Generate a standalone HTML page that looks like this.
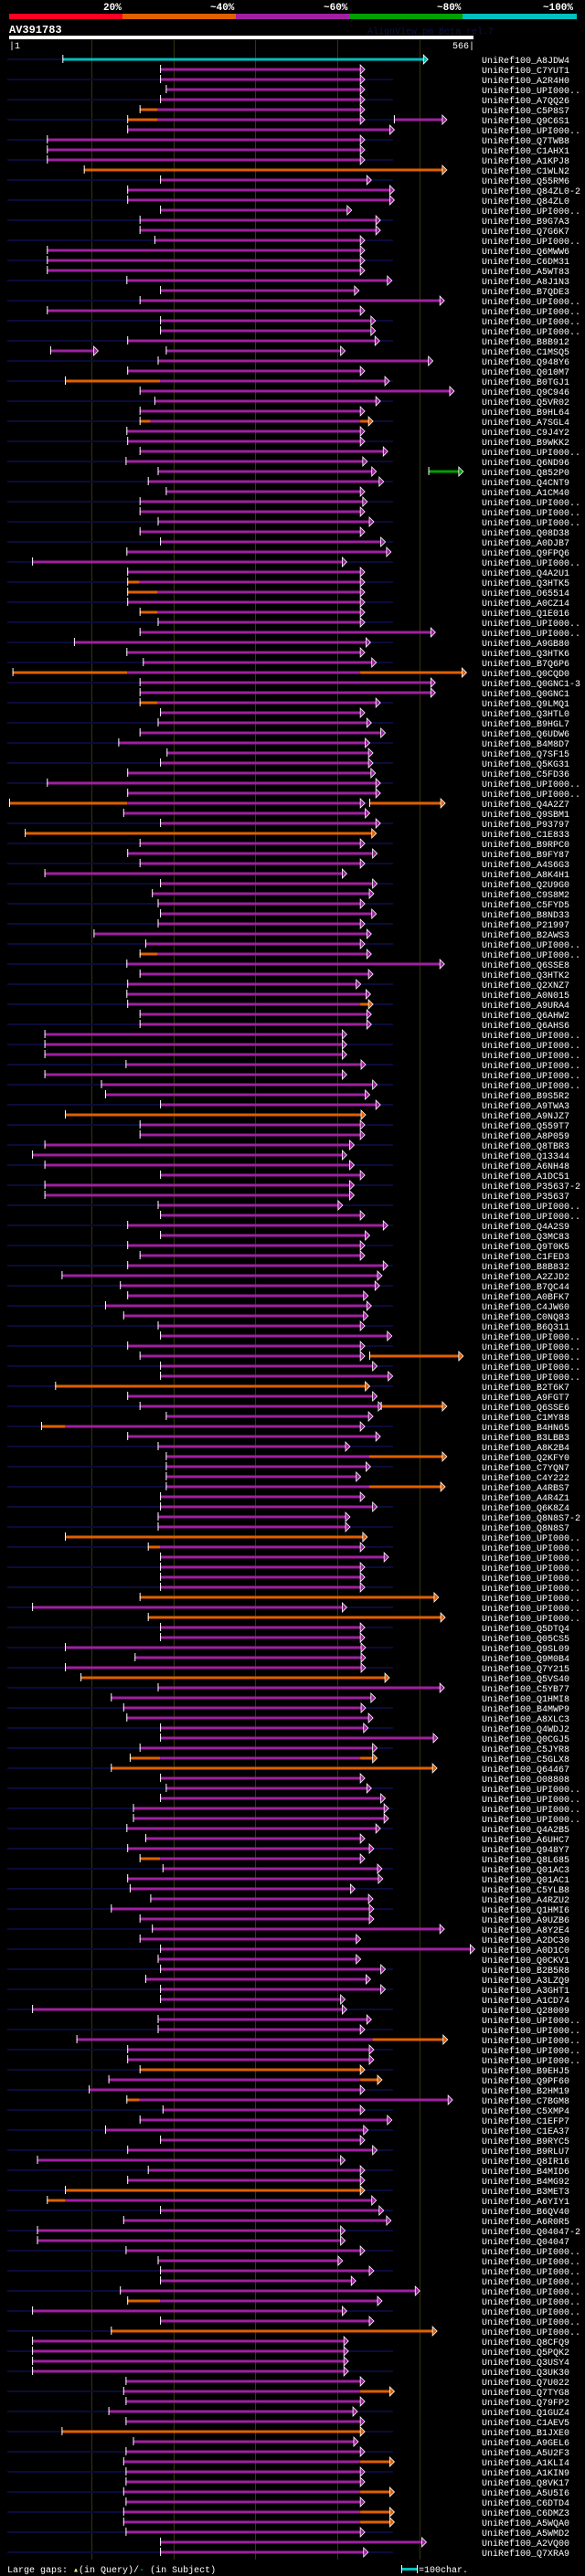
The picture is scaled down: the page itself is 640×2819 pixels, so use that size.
<!DOCTYPE html>
<html><head><meta charset="utf-8">
<style>
html,body{margin:0;padding:0;background:#000;}
body{width:640px;height:2819px;overflow:hidden;position:relative;font-family:"Liberation Mono",monospace;color:#fff;}
svg{position:absolute;left:0;top:0;}
</style></head>
<body>
<svg id="chart" width="640" height="2819" viewBox="0 0 640 2819" xmlns="http://www.w3.org/2000/svg">
  <g>
    <rect x="10" y="15" width="124" height="6" fill="#ff0022"/>
    <rect x="134" y="15" width="124" height="6" fill="#e06000"/>
    <rect x="258" y="15" width="124" height="6" fill="#a020a0"/>
    <rect x="382" y="15" width="124" height="6" fill="#00a000"/>
    <rect x="506" y="15" width="125" height="6" fill="#00c0c0"/>
    <g font-family="Liberation Mono, monospace" font-size="11" font-weight="bold" fill="#fff">
      <text x="113" y="11">20%</text>
      <text x="230" y="11">~40%</text>
      <text x="354" y="11">~60%</text>
      <text x="478" y="11">~80%</text>
      <text x="594" y="11">~100%</text>
    </g>
  </g>
  <text x="10" y="36" font-family="Liberation Mono, monospace" font-size="12" font-weight="bold" fill="#fff">AV391783</text>
  <text x="402" y="37" font-family="Liberation Mono, monospace" font-size="10" fill="#101048">AlignView.pm Beta rel.7</text>
  <rect x="10" y="39" width="508" height="4" fill="#fff"/>
  <text x="10" y="53" font-family="Liberation Mono, monospace" font-size="10" fill="#fff">|1</text>
  <text x="519" y="53" text-anchor="end" font-family="Liberation Mono, monospace" font-size="10" fill="#fff">566|</text>
  <g id="grid"></g>
  <g id="rows"></g>
  <g font-family="Liberation Mono, monospace" font-size="10" fill="#fff">
    <text x="8" y="2815">Large gaps: <tspan fill="#ffff80">▴</tspan>(in Query)/<tspan fill="#00c0c0">-</tspan> (in Subject)</text>
    <rect x="439" y="2810" width="17" height="3" fill="#00c0c0"/>
    <rect x="439" y="2807" width="1" height="9" fill="#fff"/>
    <rect x="456" y="2807" width="1" height="9" fill="#fff"/>
    <text x="458" y="2815">=100char.</text>
  </g>
</svg>
<script>
const queryLength = 566;
const gridTicks = [100, 200, 300, 400, 500];
const colors = {m: '#a020a0', o: '#e06000', c: '#00c0c0', g: '#00a000'};
const labels = ["A8JDW4","C7YUT1","A2R4H0","UPI000..","A7QQ26","C5P8S7","Q9C6S1","UPI000..","Q7TWB8","C1AHX1","A1KPJ8","C1WLN2","Q55RM6","Q84ZL0-2","Q84ZL0","UPI000..","B9G7A3","Q7G6K7","UPI000..","Q6MWW6","C6DM31","A5WT83","A8J1N3","B7QDE3","UPI000..","UPI000..","UPI000..","UPI000..",
"B8B912","C1MSQ5","Q948Y6","Q010M7","B0TGJ1","Q9C946","Q5VR02","B9HL64","A7SGL4","C9J4Y2","B9WKK2","UPI000..","Q6ND96","Q852P0","Q4CNT9","A1CM40","UPI000..","UPI000..","UPI000..","Q08D38","A0DJB7","Q9FPQ6","UPI000..","Q4A2U1","Q3HTK5","O65514","A0CZ14","Q1E016",
"UPI000..","UPI000..","A9GB80","Q3HTK6","B7Q6P6","Q0CQD0","Q0GNC1-3","Q0GNC1","Q9LMQ1","Q3HTL0","B9HGL7","Q6UDW6","B4M8D7","Q7SF15","Q5KG31","C5FD36","UPI000..","UPI000..","Q4A2Z7","Q9SBM1","P93797","C1E833","B9RPC0","B9FY87","A4S6G3","A8K4H1","Q2U9G0","C9S8M2",
"C5FYD5","B8ND33","P21997","B2AWS3","UPI000..","UPI000..","Q6SSE8","Q3HTK2","Q2XNZ7","A0N015","A9URA4","Q6AHW2","Q6AHS6","UPI000..","UPI000..","UPI000..","UPI000..","UPI000..","UPI000..","B9S5R2","A9TWA3","A9NJZ7","Q559T7","A8P059","Q8TBR3","Q13344","A6NH48","A1DC51",
"P35637-2","P35637","UPI000..","UPI000..","Q4A2S9","Q3MC83","Q9T0K5","C1FED3","B8B832","A2ZJD2","B7QC44","A0BFK7","C4JW60","C0NQ83","B6Q311","UPI000..","UPI000..","UPI000..","UPI000..","UPI000..","B2T6K7","A9FGT7","Q6SSE6","C1MY88","B4HN65","B3LBB3","A8K2B4","Q2KFY0",
"C7YQN7","C4Y222","A4RBS7","A4R4Z1","Q6K8Z4","Q8N8S7-2","Q8N8S7","UPI000..","UPI000..","UPI000..","UPI000..","UPI000..","UPI000..","UPI000..","UPI000..","UPI000..","Q5DTQ4","Q05CS5","Q9SL09","Q9M0B4","Q7Y215","Q5VS40","C5YB77","Q1HMI8","B4MWP9","A8XLC3","Q4WDJ2","Q0CGJ5",
"C5JYR8","C5GLX8","Q64467","O08808","UPI000..","UPI000..","UPI000..","UPI000..","Q4A2B5","A6UHC7","Q948Y7","Q8L685","Q01AC3","Q01AC1","C5YLB8","A4RZU2","Q1HMI6","A9UZB6","A8Y2E4","A2DC30","A0D1C0","Q0CKV1","B2B5R8","A3LZQ9","A3GHT1","A1CD74","Q28009",
"UPI000..","UPI000..","UPI000..","UPI000..","UPI000..","B9EHJ5","Q9PF60","B2HM19","C7BGM8","C5XMP4","C1EFP7","C1EA37","B9RYC5","B9RLU7","Q8IR16","B4MID6","B4MG92","B3MET3","A6YIY1","B6QV40","A6R0R5","Q04047-2","Q04047","UPI000..","UPI000..","UPI000..","UPI000..",
"UPI000..","UPI000..","UPI000..","UPI000..","UPI000..","Q8CFQ9","Q5PQK2","Q3USY4","Q3UK30","Q7U022","Q7TYG8","Q79FP2","Q1GUZ4","C1AEV5","B1JXE0","A9GEL6","A5U2F3","A1KLI4","A1KIN9","Q8VK17","A5U5I6","C6DTD4","C6DMZ3","A5WQA0","A5WMD2","A2VQ00","Q7XRA9"];
// segments per hit: [startResidue, endResidue, colourKey]
const segments = [
[[65,505,'c']],[[184,428,'m']],[[184,428,'m']],[[191,428,'m']],[[184,428,'m']],[[159,181,'o'],[181,428,'m']],[[144,181,'o'],[181,428,'m'],[469,528,'m']],[[144,464,'m']],
[[46,428,'m']],[[46,428,'m']],[[46,428,'m']],[[91,528,'o']],[[184,436,'m']],[[144,464,'m']],[[144,464,'m']],[[184,412,'m']],
[[159,447,'m']],[[159,447,'m']],[[177,428,'m']],[[46,428,'m']],[[46,428,'m']],[[46,428,'m']],[[143,461,'m']],[[184,421,'m']],
[[159,525,'m']],[[46,428,'m']],[[184,441,'m']],[[184,441,'m']],
[[144,446,'m']],[[50,103,'m'],[191,404,'m']],[[181,511,'m']],[[144,428,'m']],[[68,184,'o'],[184,458,'m']],[[159,537,'m']],[[177,447,'m']],[[159,428,'m']],
[[159,172,'o'],[172,428,'m'],[428,438,'o']],[[143,428,'m']],[[144,428,'m']],[[159,456,'m']],[[142,431,'m']],[[181,442,'m'],[511,548,'g']],[[169,451,'m']],[[191,428,'m']],
[[159,431,'m']],[[159,428,'m']],[[181,439,'m']],[[159,428,'m']],[[184,453,'m']],[[143,460,'m']],[[28,406,'m']],[[144,428,'m']],
[[144,159,'o'],[159,428,'m']],[[144,181,'o'],[181,428,'m']],[[144,428,'m']],[[159,181,'o'],[181,428,'m']],
[[181,428,'m']],[[159,514,'m']],[[79,435,'m']],[[143,428,'m']],[[163,442,'m']],[[4,144,'o'],[144,428,'m'],[428,552,'o']],[[159,514,'m']],[[159,514,'m']],
[[159,181,'o'],[181,447,'m']],[[184,428,'m']],[[181,436,'m']],[[159,453,'m']],[[133,434,'m']],[[192,438,'m']],[[184,438,'m']],[[144,441,'m']],
[[46,447,'m']],[[144,447,'m']],[[0,144,'o'],[144,428,'m'],[439,526,'o']],[[139,434,'m']],[[184,447,'m']],[[19,442,'o']],[[159,428,'m']],[[144,443,'m']],
[[159,428,'m']],[[43,406,'m']],[[184,443,'m']],[[174,439,'m']],
[[181,428,'m']],[[184,442,'m']],[[181,428,'m']],[[103,436,'m']],[[166,428,'m']],[[159,181,'o'],[181,436,'m']],[[143,525,'m']],[[159,438,'m']],
[[144,423,'m']],[[143,435,'m']],[[144,428,'m'],[428,438,'o']],[[159,436,'m']],[[159,436,'m']],[[43,406,'m']],[[43,406,'m']],[[43,406,'m']],
[[142,429,'m']],[[43,406,'m']],[[112,443,'m']],[[117,434,'m']],[[184,447,'m']],[[68,429,'o']],[[159,428,'m']],[[159,428,'m']],
[[43,415,'m']],[[28,406,'m']],[[43,415,'m']],[[184,428,'m']],
[[43,415,'m']],[[43,415,'m']],[[181,401,'m']],[[184,428,'m']],[[144,456,'m']],[[184,434,'m']],[[144,428,'m']],[[159,428,'m']],
[[144,456,'m']],[[64,449,'m']],[[135,446,'m']],[[144,432,'m']],[[117,436,'m']],[[139,432,'m']],[[181,428,'m']],[[184,461,'m']],
[[144,428,'m']],[[159,428,'m'],[439,548,'o']],[[184,443,'m']],[[184,462,'m']],[[56,434,'o']],[[144,443,'m']],[[159,450,'m'],[453,528,'o']],[[191,438,'m']],
[[39,68,'o'],[68,428,'m']],[[144,447,'m']],[[181,410,'m']],[[191,439,'m'],[439,528,'o']],
[[191,435,'m']],[[191,423,'m']],[[191,439,'m'],[439,526,'o']],[[184,428,'m']],[[184,443,'m']],[[181,410,'m']],[[181,410,'m']],[[68,431,'o']],
[[169,184,'o'],[184,428,'m']],[[184,457,'m']],[[184,428,'m']],[[184,428,'m']],[[184,428,'m']],[[159,518,'o']],[[28,406,'m']],[[169,526,'o']],
[[184,428,'m']],[[184,428,'m']],[[68,429,'m']],[[153,429,'m']],[[68,429,'m']],[[87,458,'o']],[[181,525,'m']],[[124,441,'m']],
[[139,429,'m']],[[143,438,'m']],[[184,432,'m']],[[184,517,'m']],
[[159,443,'m']],[[147,184,'o'],[184,428,'m'],[428,443,'o']],[[124,516,'o']],[[184,428,'m']],[[191,436,'m']],[[184,453,'m']],[[151,457,'m']],[[151,457,'m']],
[[143,447,'m']],[[166,428,'m']],[[144,439,'m']],[[159,184,'o'],[184,428,'m']],[[187,449,'m']],[[144,450,'m']],[[147,416,'m']],[[172,438,'m']],
[[124,439,'m']],[[159,439,'m']],[[174,525,'m']],[[159,423,'m']],[[184,562,'m']],[[181,423,'m']],[[184,453,'m']],[[166,435,'m']],
[[184,453,'m']],[[184,404,'m']],[[28,406,'m']],
[[181,436,'m']],[[181,428,'m']],[[82,443,'m'],[443,529,'o']],[[144,439,'m']],[[144,439,'m']],[[159,428,'o']],[[121,428,'m'],[428,449,'o']],[[97,428,'m']],
[[143,159,'o'],[159,535,'m']],[[187,428,'m']],[[159,461,'m']],[[117,432,'m']],[[184,428,'m']],[[144,443,'m']],[[34,404,'m']],[[169,428,'m']],
[[144,428,'m']],[[68,428,'o']],[[46,68,'o'],[68,442,'m']],[[184,451,'m']],[[139,460,'m']],[[34,404,'m']],[[34,404,'m']],[[142,428,'m']],
[[181,401,'m']],[[184,439,'m']],[[184,417,'m']],
[[135,495,'m']],[[144,184,'o'],[184,449,'m']],[[28,406,'m']],[[184,439,'m']],[[124,516,'o']],[[28,408,'m']],[[28,408,'m']],[[28,408,'m']],
[[28,408,'m']],[[142,428,'m']],[[139,428,'m'],[428,464,'o']],[[142,428,'m']],[[121,419,'m']],[[142,428,'m']],[[64,428,'o']],[[151,420,'m']],
[[142,428,'m']],[[139,428,'m'],[428,464,'o']],[[142,428,'m']],[[142,428,'m']],[[139,428,'m'],[428,464,'o']],[[142,428,'m']],[[139,428,'m'],[428,464,'o']],[[139,428,'m'],[428,464,'o']],
[[142,428,'m']],[[184,503,'m']],[[184,432,'m']]
];

const NS = 'http://www.w3.org/2000/svg';
const X0 = 10, X1 = 518;
function xScale(r){ return X0 + r * (X1 - X0) / queryLength; }
function yRow(i){ return 65 + 11 * i; }
function mk(tag, attrs, parent){
  const e = document.createElementNS(NS, tag);
  for (const k in attrs) e.setAttribute(k, attrs[k]);
  parent.appendChild(e);
  return e;
}
const grid = document.getElementById('grid');
gridTicks.forEach(t => {
  const l = mk('rect', {x: Math.round(xScale(t)), y: 44, width: 1, height: 2757, fill: '#35350f'}, grid);
  
  
});
const rowsG = document.getElementById('rows');
labels.forEach((lab, i) => {
  const y = yRow(i);
  const g = mk('g', {}, rowsG);
  
  
  if (i % 2 === 0) {
    const bg = mk('rect', {x: 8, y: y - 1, width: 422, height: 2, fill: '#0b0b3a'}, g);
    
    
  }
  const segs = segments[i] || [];
  segs.forEach((s, j) => {
    const xa = xScale(s[0]), xb = xScale(s[1]);
    const col = colors[s[2]];
    const r = mk('rect', {x: xa.toFixed(1), y: y - 1.5, width: Math.max(1, xb - xa).toFixed(1), height: 3, fill: col}, g);
    
    
    const isLast = (j === segs.length - 1) || (segs[j + 1][0] > s[1] + 2);
    const isFirst = (j === 0) || (s[0] > segs[j - 1][1] + 2);
    if (isFirst) {
      const t = mk('rect', {x: xa.toFixed(1), y: y - 5, width: 1, height: 9, fill: '#fff'}, g);
      
      
    }
    if (isLast) {
      const a = mk('polygon', {points: `${xb},${y-5} ${xb+5},${y} ${xb},${y+5}`, fill: col, stroke: '#fff', 'stroke-width': 0.8}, g);
      
      
    }
  });
  const tx = mk('text', {x: 527, y: y + 4, 'font-family': 'Liberation Mono, monospace', 'font-size': 10, fill: '#fff'}, g);
  tx.textContent = 'UniRef100_' + lab;
  
  
});
</script>
</body></html>
